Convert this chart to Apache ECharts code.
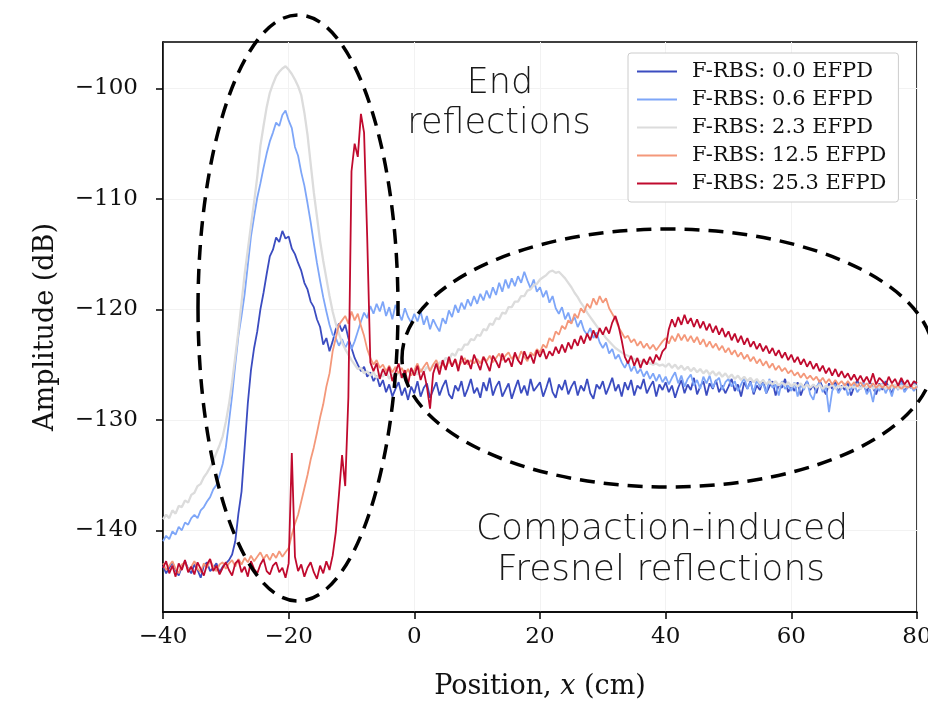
<!DOCTYPE html>
<html>
<head>
<meta charset="utf-8">
<script src="https://cdn.jsdelivr.net/npm/echarts@6/dist/echarts.min.js"></script>
<style>
  html, body { margin: 0; padding: 0; background: #fff; }
  #chart { width: 928px; height: 706px; }
</style>
</head>
<body>
<div id="chart"></div>
<script>
// sample positions: -40 .. 80 cm, every 0.5 cm
var xStart = -40, xStep = 0.5;

var legendNames = ['F-RBS: 0.0 EFPD', 'F-RBS: 0.6 EFPD', 'F-RBS: 2.3 EFPD', 'F-RBS: 12.5 EFPD', 'F-RBS: 25.3 EFPD'];
var lineColors = ['#3b4cc0', '#7ea6f8', '#dcdcdc', '#f4987a', '#c00a2e'];
var yTicks = [-140, -130, -120, -110, -100];

var blue00 = [
  -143.2,-143.9,-143.4,-142.9,-143.6,-144.1,-143.3,-142.8,-143.5,-143.9,-143.1,-143.6,-144.3,-143.2,-142.9,-143.7,-143.4,-143.0,-143.8,-143.3,
  -143.0,-142.7,-142.2,-141.0,-138.5,-136.5,-132.5,-128.5,-125.5,-123.5,-122.0,-120.0,-118.5,-116.8,-115.2,-114.6,-113.5,-113.9,-112.9,-113.6,
  -113.4,-114.5,-115.0,-115.8,-116.5,-117.6,-118.2,-119.3,-119.8,-120.9,-121.6,-123.2,-122.6,-123.8,-122.9,-121.8,-121.3,-122.0,-121.4,-122.6,
  -123.5,-124.4,-125.0,-125.6,-125.2,-126.1,-125.7,-126.5,-126.0,-127.0,-126.4,-127.5,-126.8,-127.9,-127.2,-126.6,-127.8,-127.1,-128.2,-127.0,
  -127.6,-126.5,-127.9,-127.1,-126.7,-128.0,-127.3,-126.6,-127.8,-127.0,-126.4,-127.7,-128.1,-126.9,-127.4,-126.5,-127.9,-127.2,-126.3,-127.6,
  -127.1,-128.0,-126.6,-127.4,-126.2,-127.8,-127.0,-126.5,-127.9,-127.3,-126.7,-128.1,-127.2,-126.4,-127.6,-126.9,-127.8,-126.3,-127.4,-127.0,
  -126.6,-127.9,-127.1,-126.2,-127.5,-128.0,-126.8,-127.3,-126.4,-127.7,-127.0,-126.5,-127.8,-126.9,-127.4,-126.3,-127.6,-128.1,-126.8,-127.2,
  -126.5,-127.7,-127.0,-126.2,-127.4,-126.8,-127.9,-126.6,-127.3,-126.4,-127.8,-126.9,-127.2,-126.3,-127.6,-127.0,-126.5,-127.9,-126.8,-127.3,
  -126.6,-127.5,-126.9,-128.0,-127.1,-126.4,-127.6,-126.8,-127.3,-126.2,-127.7,-127.0,-126.5,-127.8,-126.7,-127.2,-126.4,-127.5,-126.9,-127.6,
  -127.0,-126.3,-127.4,-126.8,-127.9,-126.6,-127.2,-126.5,-127.7,-126.9,-127.3,-126.4,-127.6,-127.0,-126.5,-127.8,-126.8,-127.1,-126.3,-127.5,
  -126.9,-127.4,-126.6,-127.8,-127.0,-126.5,-127.3,-126.8,-127.6,-126.4,-127.1,-127.7,-126.7,-127.2,-126.5,-127.5,-126.9,-127.3,-126.6,-127.8,
  -127.0,-126.4,-127.2,-126.8,-127.5,-126.6,-127.1,-127.7,-126.7,-127.3,-126.5,-127.0,-127.6,-126.8,-127.2,-126.4,-127.4,-126.9,-127.1,-126.6,
  -127.0
];

var blue06 = [
  -141.0,-140.5,-140.8,-140.1,-140.4,-139.7,-140.0,-139.3,-139.5,-138.9,-138.6,-138.9,-138.2,-137.9,-137.4,-137.0,-136.3,-135.9,-135.0,-134.0,
  -132.5,-130.2,-127.8,-125.0,-122.4,-120.6,-118.6,-116.0,-113.4,-111.6,-109.9,-108.6,-107.2,-105.9,-104.8,-104.0,-103.1,-103.4,-102.4,-102.0,
  -102.9,-103.6,-105.3,-106.1,-107.6,-108.8,-110.4,-112.1,-114.0,-115.8,-117.4,-118.9,-120.2,-121.4,-122.3,-122.6,-123.3,-122.7,-123.5,-122.9,
  -123.6,-122.9,-122.0,-121.1,-120.3,-120.8,-119.7,-120.4,-119.5,-120.2,-119.3,-120.6,-119.8,-120.9,-119.6,-120.3,-121.0,-119.9,-120.7,-121.2,
  -120.4,-121.1,-120.2,-121.4,-120.6,-121.8,-120.9,-121.5,-122.0,-120.8,-121.3,-120.1,-120.7,-119.6,-120.3,-119.4,-120.0,-119.1,-119.7,-118.8,
  -119.5,-118.6,-119.2,-118.3,-119.0,-118.0,-118.7,-117.6,-118.4,-117.3,-118.1,-117.2,-117.9,-117.0,-117.6,-116.6,-117.4,-118.1,-117.3,-118.4,
  -118.0,-118.9,-118.3,-119.4,-118.8,-119.9,-120.4,-119.8,-120.9,-120.3,-121.2,-120.7,-121.6,-121.0,-121.9,-122.3,-121.7,-122.6,-122.1,-123.0,
  -123.5,-123.0,-124.0,-123.6,-124.5,-124.1,-124.8,-125.3,-124.7,-125.6,-125.1,-125.8,-125.4,-126.1,-125.6,-126.3,-125.8,-126.5,-125.9,-126.6,
  -126.1,-126.8,-126.2,-125.7,-126.7,-126.0,-127.0,-126.3,-125.9,-126.9,-126.4,-127.2,-126.1,-126.7,-126.0,-127.1,-126.5,-126.2,-127.3,-126.6,
  -126.3,-127.0,-126.5,-127.4,-126.8,-126.2,-127.2,-126.6,-127.5,-126.4,-127.0,-126.7,-127.6,-126.3,-127.1,-126.8,-127.8,-126.5,-127.2,-126.9,
  -127.4,-126.6,-127.9,-126.8,-127.3,-126.5,-127.7,-128.2,-127.0,-126.6,-127.5,-127.0,-129.3,-127.4,-126.8,-127.6,-127.1,-126.7,-127.8,-127.2,
  -126.8,-127.5,-127.1,-126.6,-127.7,-127.2,-128.4,-126.9,-127.4,-126.7,-127.6,-127.0,-127.9,-126.8,-127.3,-126.6,-127.5,-127.1,-126.9,-127.4,
  -127.0
];

var grey23 = [
  -139.0,-138.6,-138.9,-138.2,-138.5,-137.8,-137.9,-137.3,-137.5,-136.8,-136.6,-136.0,-135.8,-135.2,-134.8,-134.3,-133.7,-133.0,-132.3,-131.5,
  -130.2,-128.6,-126.6,-124.3,-122.0,-119.4,-116.8,-114.6,-112.4,-110.3,-108.0,-105.2,-103.4,-101.7,-100.4,-99.6,-98.9,-98.5,-98.2,-98.0,
  -98.3,-98.7,-99.2,-99.8,-100.6,-102.2,-104.2,-106.8,-109.4,-111.6,-113.8,-115.6,-117.2,-118.8,-120.2,-121.3,-122.2,-123.0,-123.6,-124.1,
  -124.6,-125.0,-125.4,-125.3,-125.8,-125.6,-126.0,-125.7,-126.2,-125.8,-126.1,-125.6,-126.3,-125.9,-126.1,-125.7,-126.2,-125.8,-125.5,-125.9,
  -125.6,-125.9,-125.4,-125.7,-125.2,-125.5,-125.0,-125.3,-124.8,-124.9,-124.4,-124.6,-124.0,-124.2,-123.6,-123.7,-123.2,-123.2,-122.7,-122.8,
  -122.3,-122.4,-121.8,-121.9,-121.3,-121.4,-120.8,-120.9,-120.3,-120.4,-119.8,-119.8,-119.3,-119.3,-118.8,-118.8,-118.3,-118.2,-117.8,-117.7,
  -117.3,-117.1,-116.9,-116.6,-116.5,-116.7,-116.6,-116.9,-117.2,-117.6,-118.0,-118.5,-118.9,-119.4,-119.8,-120.3,-120.7,-121.1,-121.5,-121.9,
  -122.2,-122.6,-122.9,-123.2,-123.5,-123.7,-123.9,-124.1,-124.2,-124.4,-124.5,-124.6,-124.7,-124.8,-124.8,-124.9,-125.0,-124.9,-125.1,-125.0,
  -125.2,-124.9,-125.3,-125.0,-125.4,-125.1,-125.5,-125.2,-125.6,-125.3,-125.7,-125.4,-125.8,-125.5,-125.9,-125.6,-126.0,-125.7,-126.1,-125.8,
  -126.2,-125.9,-126.3,-126.0,-126.4,-126.1,-126.5,-126.2,-126.6,-126.3,-126.7,-126.4,-126.8,-126.5,-126.8,-126.5,-126.9,-126.6,-126.9,-126.6,
  -127.0,-126.7,-127.0,-126.7,-127.1,-126.8,-127.1,-126.8,-127.1,-126.8,-127.2,-126.9,-127.1,-126.8,-127.2,-126.9,-127.1,-126.8,-127.2,-126.9,
  -127.1,-126.8,-127.2,-126.9,-127.1,-126.8,-127.2,-126.9,-127.1,-126.8,-127.2,-126.9,-127.1,-126.8,-127.2,-126.9,-127.1,-126.8,-127.0,-126.8,
  -127.0
];

var orange125 = [
  -143.0,-143.6,-143.2,-142.8,-143.5,-143.9,-143.1,-142.9,-143.6,-143.3,-142.8,-143.5,-143.8,-143.0,-143.4,-142.7,-143.3,-143.7,-143.1,-142.9,
  -143.5,-143.0,-142.7,-143.3,-142.6,-143.1,-142.5,-142.9,-142.3,-142.8,-142.4,-142.0,-142.6,-142.2,-142.7,-142.1,-142.5,-141.9,-142.4,-142.0,
  -141.6,-140.4,-139.4,-138.6,-137.4,-136.2,-135.0,-133.6,-132.5,-131.2,-129.8,-128.6,-127.0,-125.8,-123.8,-122.6,-121.4,-121.0,-120.6,-121.3,
  -120.2,-121.0,-120.4,-121.5,-122.4,-123.6,-124.4,-125.0,-124.6,-125.3,-125.0,-125.6,-125.1,-125.7,-125.2,-125.8,-125.3,-125.9,-125.4,-126.0,
  -125.5,-124.9,-125.7,-125.2,-124.8,-125.6,-125.0,-124.6,-125.4,-124.9,-125.3,-124.7,-125.1,-124.5,-125.2,-124.8,-124.4,-125.0,-124.6,-124.9,
  -124.5,-124.9,-124.3,-124.7,-124.2,-124.8,-124.4,-124.0,-124.6,-124.2,-123.9,-124.5,-124.1,-124.6,-123.8,-124.3,-124.7,-123.9,-124.2,-123.6,
  -123.9,-123.2,-123.5,-122.6,-122.9,-122.0,-122.3,-121.5,-121.8,-121.0,-121.3,-120.4,-120.8,-119.9,-120.3,-119.5,-119.9,-119.0,-119.6,-118.8,
  -119.4,-119.0,-119.9,-120.4,-120.9,-121.6,-122.1,-122.6,-122.4,-123.0,-122.7,-123.3,-122.9,-123.5,-123.1,-123.6,-123.2,-123.7,-123.3,-122.9,
  -122.6,-123.1,-122.4,-122.9,-122.2,-122.8,-122.3,-122.9,-122.4,-123.0,-122.5,-123.2,-122.7,-123.4,-122.9,-123.5,-123.1,-123.7,-123.3,-123.9,
  -123.5,-124.1,-123.7,-124.3,-123.9,-124.5,-124.1,-124.7,-124.3,-124.9,-124.5,-125.1,-124.7,-125.3,-124.9,-125.5,-125.1,-125.6,-125.3,-125.8,
  -125.5,-126.0,-125.7,-126.2,-125.8,-126.3,-126.0,-126.4,-126.1,-126.6,-126.2,-126.7,-126.3,-126.8,-126.4,-126.8,-126.5,-126.9,-126.5,-126.9,
  -126.6,-127.0,-126.6,-127.0,-126.7,-127.1,-126.7,-127.1,-126.8,-127.1,-126.8,-127.2,-126.8,-127.1,-126.9,-127.2,-126.9,-127.1,-126.9,-127.2,
  -127.0
];

var red253 = [
  -143.4,-142.8,-143.9,-143.2,-144.2,-143.0,-143.6,-142.7,-143.8,-143.3,-144.0,-142.9,-143.5,-144.1,-143.1,-142.6,-143.7,-143.2,-144.0,-143.4,
  -142.9,-143.6,-144.1,-143.0,-142.7,-143.8,-143.3,-144.2,-142.8,-143.5,-143.9,-143.1,-142.6,-143.7,-144.0,-143.2,-142.9,-143.8,-143.4,-144.3,
  -143.0,-133.0,-142.4,-143.7,-143.1,-144.2,-143.4,-142.9,-143.8,-144.4,-143.2,-143.9,-142.8,-143.6,-142.3,-140.2,-136.8,-133.2,-136.0,-128.0,
  -107.5,-105.0,-106.2,-102.3,-104.0,-113.5,-124.8,-125.6,-124.9,-126.3,-125.4,-126.0,-125.2,-126.5,-125.7,-124.9,-126.2,-125.5,-126.8,-125.3,
  -126.0,-125.1,-126.4,-125.6,-127.0,-129.0,-125.8,-124.9,-125.9,-124.6,-125.5,-124.3,-125.2,-124.5,-125.6,-124.2,-125.0,-124.6,-125.4,-124.1,
  -124.8,-125.5,-124.3,-124.9,-125.6,-124.2,-124.7,-125.3,-124.0,-124.8,-124.4,-125.2,-123.9,-124.6,-125.0,-123.8,-124.5,-124.1,-124.9,-123.7,
  -124.3,-123.6,-124.5,-123.8,-124.2,-123.4,-124.0,-123.2,-123.9,-123.0,-123.6,-122.7,-123.3,-122.4,-123.1,-122.2,-122.8,-121.9,-122.6,-121.7,
  -122.3,-121.6,-122.2,-121.2,-120.6,-121.5,-122.8,-124.3,-124.9,-124.2,-125.1,-124.4,-125.3,-124.5,-125.0,-124.3,-124.9,-124.1,-124.6,-123.8,
  -123.5,-121.8,-120.9,-121.6,-120.7,-121.4,-120.5,-121.3,-120.8,-121.6,-120.9,-121.7,-121.1,-121.9,-121.3,-122.1,-121.5,-122.3,-121.7,-122.5,
  -122.0,-122.8,-122.2,-123.0,-122.4,-123.2,-122.6,-123.4,-122.9,-123.6,-123.1,-123.8,-123.3,-124.0,-123.5,-124.2,-123.7,-124.4,-123.9,-124.6,
  -124.1,-124.8,-124.3,-125.0,-124.5,-125.2,-124.7,-125.4,-124.9,-125.6,-125.1,-125.8,-125.3,-126.0,-125.4,-126.1,-125.6,-126.2,-125.8,-126.4,
  -125.9,-126.5,-126.0,-126.6,-126.1,-126.7,-125.8,-126.8,-126.2,-126.5,-126.9,-126.1,-126.7,-126.3,-126.9,-126.2,-126.8,-126.4,-127.0,-126.5,
  -126.7
];

var seriesValues = [blue00, blue06, grey23, orange125, red253];

function toPairs(vals) {
  var out = [];
  for (var i = 0; i < vals.length; i++) {
    out.push([xStart + i * xStep, vals[i]]);
  }
  return out;
}

function minusFmt(v) {
  return v < 0 ? '\u2212' + Math.abs(v) : String(v);
}

var serif = 'DejaVu Serif';
var annoFont = 'DejaVu Sans';

var myChart = echarts.init(document.getElementById('chart'));

var option = {
  backgroundColor: '#fff',
  animation: false,
  grid: {
    left: 163, right: 11, top: 42, bottom: 94,
    outerBoundsMode: 'none',
    containLabel: false,
    show: true, borderColor: '#000', borderWidth: 1.5, backgroundColor: 'transparent'
  },
  legend: {
    orient: 'vertical',
    left: 628, top: 53,
    padding: [8, 12, 8, 9],
    backgroundColor: '#fff',
    borderColor: '#cccccc', borderWidth: 1, borderRadius: 3,
    icon: 'rect',
    itemWidth: 40, itemHeight: 2,
    itemGap: 7,
    textStyle: { fontFamily: serif, fontSize: 21, color: '#111', lineHeight: 20, padding: [0, 0, 0, 10] },
    data: legendNames
  },
  xAxis: {
    type: 'value',
    min: -40, max: 80, interval: 20,
    name: 'Position, {i|x} (cm)',
    nameLocation: 'middle',
    nameGap: 61,
    nameTextStyle: {
      fontFamily: serif, fontSize: 27, color: '#111',
      rich: { i: { fontFamily: serif, fontSize: 27, fontStyle: 'italic', color: '#111' } }
    },
    axisLine: { show: true, onZero: false, lineStyle: { color: '#000', width: 1.5 } },
    axisTick: { show: true, inside: false, length: 7, lineStyle: { color: '#000', width: 1.5 } },
    axisLabel: { fontFamily: serif, fontSize: 23, color: '#111', margin: 14, formatter: minusFmt, showMaxLabel: true, showMinLabel: true },
    splitLine: { show: true, lineStyle: { color: '#f2f2f2', width: 1 } }
  },
  yAxis: {
    type: 'value',
    min: -147.4, max: -95.8,
    name: 'Amplitude (dB)',
    nameLocation: 'middle',
    nameGap: 104,
    nameRotate: 90,
    nameTextStyle: { fontFamily: serif, fontSize: 27, color: '#111' },
    axisLine: { show: true, onZero: false, lineStyle: { color: '#000', width: 1.5 } },
    axisTick: { show: true, inside: false, length: 7, customValues: yTicks, lineStyle: { color: '#000', width: 1.5 } },
    axisLabel: { fontFamily: serif, fontSize: 23, color: '#111', margin: 25, customValues: yTicks, formatter: minusFmt },
    splitLine: { show: true, lineStyle: { color: '#f2f2f2', width: 1 } }
  },
  series: seriesValues.map(function (vals, k) {
    return {
      name: legendNames[k],
      type: 'line',
      data: toPairs(vals),
      showSymbol: false,
      symbol: 'none',
      sampling: null,
      color: lineColors[k],
      lineStyle: { color: lineColors[k], width: k === 2 ? 2.3 : 1.8 },
      emphasis: { disabled: true },
      z: 2 + k
    };
  }),
  graphic: [
    {
      type: 'ellipse', z: 100,
      shape: { cx: 298, cy: 308, rx: 100, ry: 293 },
      style: { fill: 'none', stroke: '#000', lineWidth: 3.5, lineDash: [15, 9] }
    },
    {
      type: 'ellipse', z: 100,
      shape: { cx: 668, cy: 358, rx: 266, ry: 129 },
      style: { fill: 'none', stroke: '#000', lineWidth: 3.5, lineDash: [15, 9] }
    },
    {
      type: 'text', z: 101, x: 500, y: 84,
      style: { text: 'End', fontFamily: annoFont, fontSize: 35, fontWeight: 200, fill: '#1a1a1a', align: 'center', verticalAlign: 'middle' }
    },
    {
      type: 'text', z: 101, x: 499, y: 124,
      style: { text: 'reflections', fontFamily: annoFont, fontSize: 35, fontWeight: 200, fill: '#1a1a1a', align: 'center', verticalAlign: 'middle' }
    },
    {
      type: 'text', z: 101, x: 662, y: 530,
      style: { text: 'Compaction-induced', fontFamily: annoFont, fontSize: 36, fontWeight: 200, fill: '#1a1a1a', align: 'center', verticalAlign: 'middle' }
    },
    {
      type: 'text', z: 101, x: 661, y: 571,
      style: { text: 'Fresnel reflections', fontFamily: annoFont, fontSize: 36, fontWeight: 200, fill: '#1a1a1a', align: 'center', verticalAlign: 'middle' }
    }
  ]
};

myChart.setOption(option);
window.onresize = function () {
  myChart.resize();
};
</script>
</body>
</html>
